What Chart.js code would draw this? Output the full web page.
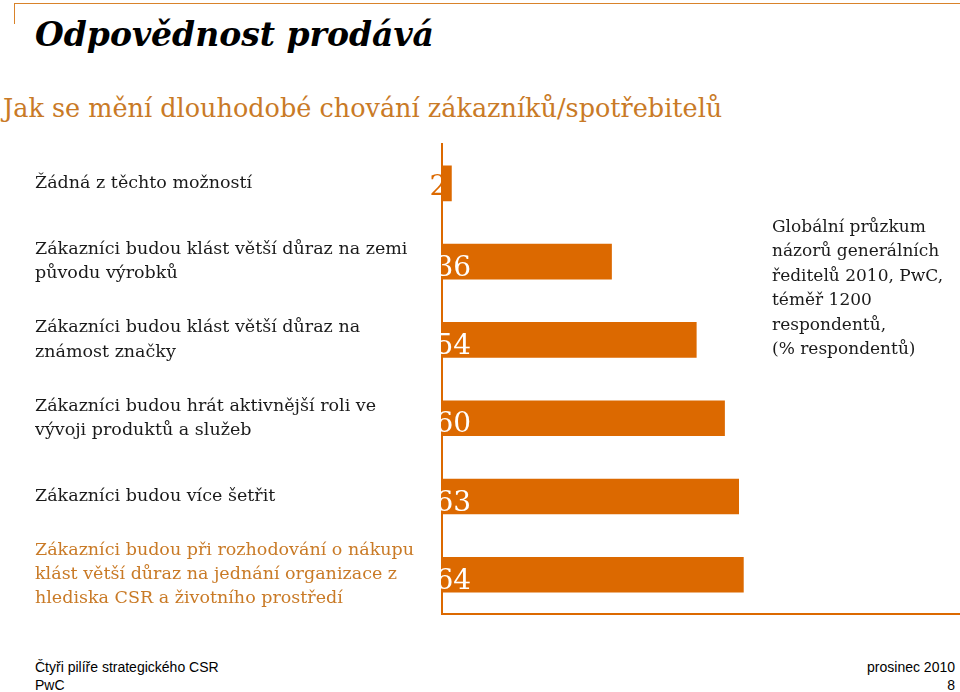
<!DOCTYPE html>
<html>
<head>
<meta charset="utf-8">
<script src="https://cdn.jsdelivr.net/npm/chart.js@4"></script>
<style>
  body { margin: 0; width: 960px; height: 692px; background: #fff; position: relative; overflow: hidden; }
  .topline { position: absolute; left: 14px; top: 3px; width: 946px; height: 20px; border-top: 1px solid #d9832a; border-left: 1px solid #d9832a; }
  h1 { position: absolute; left: 35px; top: 15px; margin: 0; font: italic bold 33px "DejaVu Serif"; color: #000; }
  h2 { position: absolute; left: 3px; top: 93px; margin: 0; font: 25.5px "DejaVu Serif"; font-weight: normal; color: #c97a26; }
  .note { position: absolute; left: 772px; top: 214px; font: 17px/24.4px "DejaVu Serif"; color: #1a1a1a; }
  .foot { position: absolute; font: 14px/18px "Liberation Sans"; color: #000; }
  #wrap { position: absolute; left: 0; top: 108px; width: 960px; height: 518px; }
</style>
</head>
<body>
<div class="topline"></div>
<h1>Odpovědnost prodává</h1>
<h2>Jak se mění dlouhodobé chování zákazníků/spotřebitelů</h2>
<div id="wrap"><canvas id="myChart"></canvas></div>
<div class="note">Globální průzkum<br>názorů generálních<br>ředitelů 2010, PwC,<br>téměř 1200<br>respondentů,<br>(% respondentů)</div>
<div class="foot" style="left:35px; top:658px;">Čtyři pilíře strategického CSR<br>PwC</div>
<div class="foot" style="right:5px; top:658px; text-align:right;">prosinec 2010<br>8</div>
<script>
const categories = [
  ['Žádná z těchto možností'],
  ['Zákazníci budou klást větší důraz na zemi', 'původu výrobků'],
  ['Zákazníci budou klást větší důraz na', 'známost značky'],
  ['Zákazníci budou hrát aktivnější roli ve', 'vývoji produktů a služeb'],
  ['Zákazníci budou více šetřit'],
  ['Zákazníci budou při rozhodování o nákupu', 'klást větší důraz na jednání organizace z', 'hlediska CSR a životního prostředí']
];
const values = [2, 36, 54, 60, 63, 64];
const labelColors = ['#1a1a1a', '#1a1a1a', '#1a1a1a', '#1a1a1a', '#1a1a1a', '#c97a26'];

const ORANGE = '#dc6900';

const valueLabels = {
  id: 'valueLabels',
  beforeDatasetsDraw(chart) {
    const { ctx } = chart;
    const meta = chart.getDatasetMeta(0);
    ctx.save();
    ctx.font = '28px "DejaVu Serif"';
    ctx.fillStyle = ORANGE;
    ctx.textAlign = 'left';
    ctx.textBaseline = 'alphabetic';
    meta.data.forEach((bar, i) => {
      if (values[i] < 10) ctx.fillText(String(values[i]), bar.base - 13, bar.y + 12);
    });
    ctx.restore();
  },
  afterDatasetsDraw(chart) {
    const { ctx } = chart;
    const meta = chart.getDatasetMeta(0);
    ctx.save();
    ctx.font = '28px "DejaVu Serif"';
    ctx.fillStyle = '#fff';
    ctx.textAlign = 'left';
    ctx.textBaseline = 'alphabetic';
    meta.data.forEach((bar, i) => {
      if (values[i] >= 10) ctx.fillText(String(values[i]), bar.base - 7, bar.y + 14);
    });
    ctx.restore();
  }
};

window.addEventListener("DOMContentLoaded", () => {
  const ctx = document.getElementById("myChart");
  if (!ctx) return;
  new Chart(ctx, {
    type: 'bar',
    data: {
      labels: categories,
      datasets: [{
        data: values,
        backgroundColor: ORANGE,
        borderWidth: 0,
        barThickness: 35
      }]
    },
    options: {
      indexAxis: 'y',
      responsive: true,
      maintainAspectRatio: false,
      animation: false,
      layout: { padding: { left: 35, top: 10, bottom: 5, right: 0 } },
      plugins: { legend: { display: false }, tooltip: { enabled: false } },
      scales: {
        x: {
          min: 0,
          max: 110,
          ticks: { display: false },
          grid: { drawOnChartArea: false, drawTicks: false, color: 'transparent' },
          border: { color: ORANGE, width: 2 }
        },
        y: {
          afterFit(scale) { scale.width = 407; },
          ticks: {
            crossAlign: 'far',
            color: (c) => labelColors[c.index],
            font: { family: 'DejaVu Serif', size: 17.5, lineHeight: 1.38 },
            padding: 0
          },
          grid: { drawOnChartArea: false, drawTicks: false, color: 'transparent' },
          border: { color: ORANGE, width: 2 }
        }
      }
    },
    plugins: [valueLabels]
  });
});
</script>
</body>
</html>
